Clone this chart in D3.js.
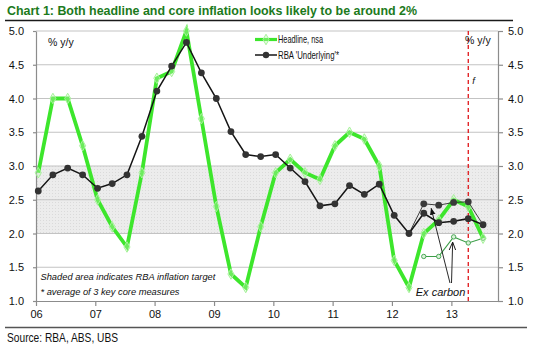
<!DOCTYPE html>
<html>
<head>
<meta charset="utf-8">
<script src="https://cdn.jsdelivr.net/npm/d3@7"></script>
<style>
  html, body { margin: 0; padding: 0; background: #fff; }
  svg { display: block; }
</style>
</head>
<body>
<svg id="chart" width="535" height="348"></svg>
<script>
// Quarterly observations, 2006 Q1 to 2013 Q3 (2013 Q3 is a forecast)
const quarters = [
  "2006Q1","2006Q2","2006Q3","2006Q4",
  "2007Q1","2007Q2","2007Q3","2007Q4",
  "2008Q1","2008Q2","2008Q3","2008Q4",
  "2009Q1","2009Q2","2009Q3","2009Q4",
  "2010Q1","2010Q2","2010Q3","2010Q4",
  "2011Q1","2011Q2","2011Q3","2011Q4",
  "2012Q1","2012Q2","2012Q3","2012Q4",
  "2013Q1","2013Q2","2013Q3"
];
// Headline CPI, % y/y (not seasonally adjusted)
const headline = [
  2.9, 4.0, 4.0, 3.3,
  2.5, 2.1, 1.8, 2.9,
  4.3, 4.4, 5.0, 3.7,
  2.4, 1.4, 1.2, 2.1,
  2.9, 3.1, 2.9, 2.8,
  3.3, 3.5, 3.4, 3.0,
  1.6, 1.2, 2.0, 2.2,
  2.5, 2.4, 1.93
];
// RBA underlying inflation (average of 3 core measures), % y/y
const underlying = [
  2.63, 2.87, 2.97, 2.87,
  2.67, 2.74, 2.87, 3.44,
  4.11, 4.48, 4.83, 4.38,
  4.00, 3.51, 3.17, 3.14,
  3.17, 2.97, 2.77, 2.41,
  2.44, 2.71, 2.58, 2.73,
  2.27, 2.00, 2.30, 2.16,
  2.18, 2.22, 2.13
];
// Ex-carbon-tax measures
const exCarbonCoreQuarters = ["2012Q2","2012Q3","2012Q4","2013Q1","2013Q2","2013Q3"];
const exCarbonCore = [2.00, 2.44, 2.42, 2.46, 2.47, 2.13];
const exCarbonHeadlineQuarters = ["2012Q3","2012Q4","2013Q1","2013Q2","2013Q3"];
const exCarbonHeadline = [1.66, 1.66, 1.95, 1.86, 1.93];

// Axis ticks and reference values
const yTicks = [1.0, 1.5, 2.0, 2.5, 3.0, 3.5, 4.0, 4.5, 5.0];
const targetBand = [2.0, 3.0];
const forecastFrom = "2013Q2";

const titleText = "Chart 1: Both headline and core inflation looks likely to be around 2%";
const legendLabels = ["Headline, nsa", "RBA 'Underlying'*"];
const notes = ["Shaded area indicates RBA inflation target", "* average of 3 key core measures"];
const sourceText = "Source: RBA, ABS, UBS";

// ---------------------------------------------------------------
const SANS = "'Liberation Sans', Arial, Helvetica, sans-serif";

const parseQ = s => new Date(+s.slice(0, 4), (+s.slice(5) - 1) * 3, 15);

const svg = d3.select("#chart");
const plot = { left: 36, right: 498, top: 31, bottom: 301 };

const x = d3.scaleTime()
  .domain([new Date(2006, 0, 1), new Date(2013, 9, 15)])
  .range([plot.left, plot.right]);
const y = d3.scaleLinear().domain([1, 5]).range([plot.bottom, plot.top]);

svg.append("rect").attr("width", 535).attr("height", 348).attr("fill", "#fff");

// Condensed text: squeeze regular glyphs to a narrow face's width
function narrow(sel, width) {
  sel.attr("textLength", width).attr("lengthAdjust", "spacingAndGlyphs");
}

// Dotted grey fill for the target band
const defs = svg.append("defs");
const pat = defs.append("pattern").attr("id", "dots")
  .attr("patternUnits", "userSpaceOnUse").attr("width", 3).attr("height", 3);
pat.append("rect").attr("width", 3).attr("height", 3).attr("fill", "#ececec");
pat.append("rect").attr("x", 1).attr("y", 1).attr("width", 1).attr("height", 1).attr("fill", "#dadada");

defs.append("marker").attr("id", "arrowFill")
  .attr("viewBox", "0 0 10 10").attr("refX", 9).attr("refY", 5)
  .attr("markerWidth", 7).attr("markerHeight", 7).attr("orient", "auto")
  .attr("markerUnits", "userSpaceOnUse")
  .append("path").attr("d", "M0,1 L10,5 L0,9 Z").attr("fill", "#111");
defs.append("marker").attr("id", "arrowOpen")
  .attr("viewBox", "0 0 10 10").attr("refX", 9).attr("refY", 5)
  .attr("markerWidth", 8).attr("markerHeight", 8).attr("orient", "auto")
  .attr("markerUnits", "userSpaceOnUse")
  .append("path").attr("d", "M0,1 L10,5 L0,9").attr("fill", "none")
  .attr("stroke", "#111").attr("stroke-width", 1.2);

// Title and rules
svg.append("text").attr("x", 7).attr("y", 14.5)
  .attr("font-family", SANS).attr("font-weight", "bold").attr("font-size", 13.2)
  .attr("fill", "#1c7a1c").text(titleText).call(narrow, 410);
svg.append("line").attr("x1", 5).attr("x2", 513).attr("y1", 20.5).attr("y2", 20.5)
  .attr("stroke", "#1a1a1a").attr("stroke-width", 1.6);
svg.append("line").attr("x1", 5).attr("x2", 527).attr("y1", 327.5).attr("y2", 327.5)
  .attr("stroke", "#555").attr("stroke-width", 1.4);
svg.append("text").attr("x", 7).attr("y", 342)
  .attr("font-family", SANS).attr("font-size", 12.4).attr("fill", "#111")
  .text(sourceText).call(narrow, 111);

// Target band
svg.append("rect")
  .attr("x", plot.left).attr("width", plot.right - plot.left)
  .attr("y", y(targetBand[1])).attr("height", y(targetBand[0]) - y(targetBand[1]))
  .attr("fill", "url(#dots)");

// Horizontal gridlines
svg.append("g").selectAll("line").data(yTicks.filter(d => d > 1)).join("line")
  .attr("x1", plot.left).attr("x2", plot.right)
  .attr("y1", d => y(d)).attr("y2", d => y(d))
  .attr("stroke", "#c3c3c3").attr("stroke-width", 1);

// Axes
function styleAxis(g) {
  g.select(".domain").attr("stroke", "#8c8c8c").attr("stroke-width", 1.2);
  g.selectAll(".tick line").attr("stroke", "#8c8c8c").attr("stroke-width", 1.2);
  g.selectAll(".tick text").attr("fill", "#111").attr("font-family", SANS).attr("font-size", 11);
}
svg.append("g").attr("transform", `translate(${plot.left},0)`)
  .call(d3.axisLeft(y).tickValues(yTicks).tickFormat(d3.format(".1f")).tickSizeInner(3).tickSizeOuter(0).tickPadding(9))
  .call(styleAxis);
svg.append("g").attr("transform", `translate(${plot.right},0)`)
  .call(d3.axisRight(y).tickValues(yTicks).tickFormat(d3.format(".1f")).tickSizeInner(5).tickSizeOuter(0).tickPadding(5))
  .call(styleAxis);
svg.append("g").attr("transform", `translate(0,${plot.bottom})`)
  .call(d3.axisBottom(x).ticks(d3.timeYear.every(1)).tickFormat(d3.timeFormat("%y")).tickSizeInner(5).tickSizeOuter(0).tickPadding(4))
  .call(styleAxis);

// Forecast divider
const fx = x(parseQ(forecastFrom));
svg.append("line").attr("x1", fx).attr("x2", fx).attr("y1", plot.top).attr("y2", plot.bottom)
  .attr("stroke", "#e0161a").attr("stroke-width", 1.3).attr("stroke-dasharray", "4,3");
svg.append("text").attr("x", fx + 4).attr("y", 84)
  .attr("font-family", SANS).attr("font-style", "italic").attr("font-size", 9.5).attr("fill", "#111").text("f");

// Unit labels
svg.append("text").attr("x", 48).attr("y", 45.5)
  .attr("font-family", SANS).attr("font-size", 10.5).attr("fill", "#111").text("% y/y");
svg.append("text").attr("x", 465).attr("y", 44)
  .attr("font-family", SANS).attr("font-size", 10.5).attr("fill", "#111").text("% y/y");

// Series
const line = d3.line().x(d => x(d.date)).y(d => y(d.value));
const toPts = (qs, vals) => qs.map((q, i) => ({ date: parseQ(q), value: vals[i] }));

const headPts = toPts(quarters, headline);
const corePts = toPts(quarters, underlying);
const exCorePts = toPts(exCarbonCoreQuarters, exCarbonCore);
const exHeadPts = toPts(exCarbonHeadlineQuarters, exCarbonHeadline);

const diamond = d3.symbol().type(d3.symbolDiamond).size(32);

// Headline, ex carbon (thin green)
svg.append("path").attr("d", line(exHeadPts)).attr("fill", "none")
  .attr("stroke", "#3c9e48").attr("stroke-width", 1.1);
svg.append("g").selectAll("circle").data(exHeadPts).join("circle")
  .attr("cx", d => x(d.date)).attr("cy", d => y(d.value)).attr("r", 2.2)
  .attr("fill", "#d9f2d9").attr("stroke", "#3c9e48").attr("stroke-width", 0.9);

// Headline
svg.append("path").attr("d", line(headPts)).attr("fill", "none")
  .attr("stroke", "#3de62c").attr("stroke-width", 3.8).attr("stroke-linejoin", "miter");
svg.append("g").selectAll("path").data(headPts).join("path")
  .attr("transform", d => `translate(${x(d.date)},${y(d.value)})`)
  .attr("d", diamond).attr("fill", "#c6f7bb").attr("fill-opacity", 0.35)
  .attr("stroke", "#a6f29a").attr("stroke-width", 1);

// Underlying, ex carbon (thin black)
svg.append("path").attr("d", line(exCorePts)).attr("fill", "none")
  .attr("stroke", "#2a2a2a").attr("stroke-width", 0.9);
svg.append("g").selectAll("circle").data(exCorePts.slice(1, -1)).join("circle")
  .attr("cx", d => x(d.date)).attr("cy", d => y(d.value)).attr("r", 3.4)
  .attr("fill", "#3a3a3a");

// Underlying
svg.append("path").attr("d", line(corePts)).attr("fill", "none")
  .attr("stroke", "#141414").attr("stroke-width", 1.5);
svg.append("g").selectAll("circle").data(corePts).join("circle")
  .attr("cx", d => x(d.date)).attr("cy", d => y(d.value)).attr("r", 3.4)
  .attr("fill", "#333");

// Legend
const legendWidths = [45, 61];
const lg = svg.append("g").attr("transform", "translate(255,0)");
lg.append("line").attr("x1", 0).attr("x2", 22).attr("y1", 39.5).attr("y2", 39.5)
  .attr("stroke", "#3de62c").attr("stroke-width", 3.2);
lg.append("path").attr("transform", "translate(11,39.5)").attr("d", diamond)
  .attr("fill", "#c6f7bb").attr("fill-opacity", 0.35).attr("stroke", "#a6f29a");
lg.append("line").attr("x1", 0).attr("x2", 22).attr("y1", 55).attr("y2", 55)
  .attr("stroke", "#141414").attr("stroke-width", 1.5);
lg.append("circle").attr("cx", 11).attr("cy", 55).attr("r", 3.2).attr("fill", "#333");
lg.selectAll("text").data(legendLabels).join("text")
  .attr("x", 23).attr("y", (d, i) => 43.2 + i * 15.5)
  .attr("font-family", SANS).attr("font-size", 10.2).attr("fill", "#111").text(d => d)
  .attr("textLength", (d, i) => legendWidths[i]).attr("lengthAdjust", "spacingAndGlyphs");

// Notes
svg.append("g").selectAll("text").data(notes).join("text")
  .attr("x", 40.5).attr("y", (d, i) => 280 + i * 14.5)
  .attr("font-family", SANS).attr("font-style", "italic").attr("font-size", 9.3)
  .attr("fill", "#111").text(d => d);

// "Ex carbon" call-out with arrows to the two ex-carbon lines
const a = exCorePts[1], b = exCorePts[2];
const tip1 = [(x(a.date) + x(b.date)) / 2, (y(a.value) + y(b.value)) / 2 + 4];
const c = exHeadPts[2];
const tip2 = [x(c.date) - 1, y(c.value) + 6];
svg.append("line").attr("x1", 450).attr("y1", 283).attr("x2", tip1[0]).attr("y2", tip1[1])
  .attr("stroke", "#111").attr("stroke-width", 0.9).attr("marker-end", "url(#arrowFill)");
svg.append("line").attr("x1", 451.5).attr("y1", 283).attr("x2", tip2[0]).attr("y2", tip2[1])
  .attr("stroke", "#111").attr("stroke-width", 0.9).attr("marker-end", "url(#arrowOpen)");
svg.append("text").attr("x", 440.5).attr("y", 295.5).attr("text-anchor", "middle")
  .attr("font-family", SANS).attr("font-style", "italic").attr("font-size", 11)
  .attr("fill", "#111").text("Ex carbon");
</script>
</body>
</html>
